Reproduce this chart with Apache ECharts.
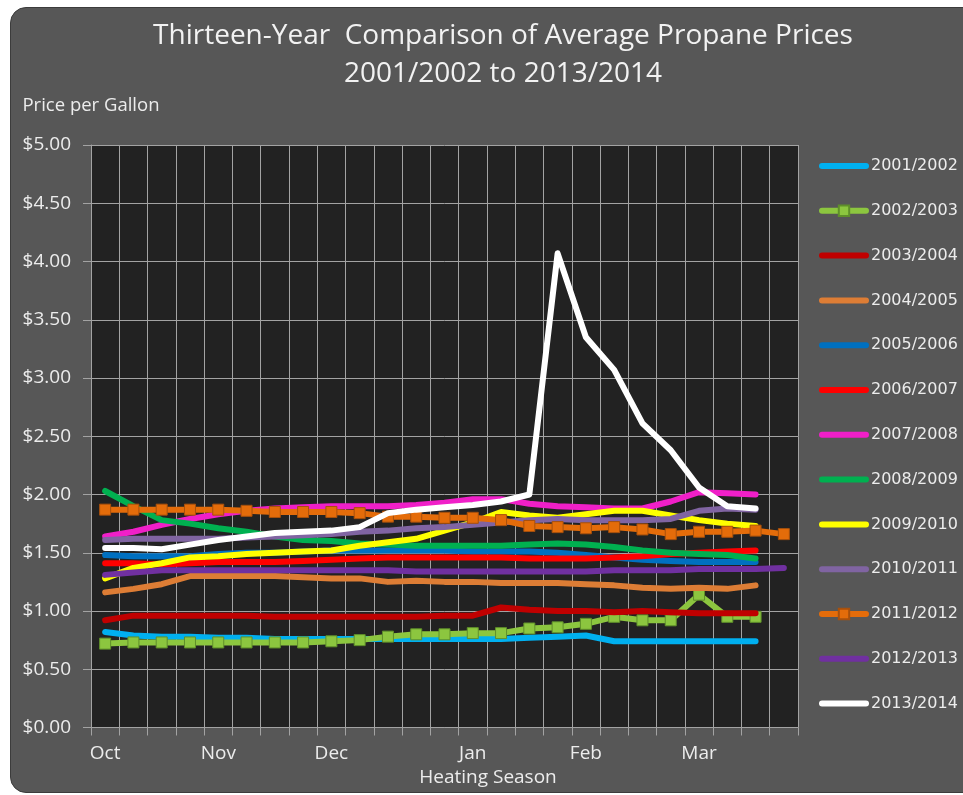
<!DOCTYPE html>
<html>
<head>
<meta charset="utf-8">
<title>Propane Prices</title>
<script src="https://cdn.jsdelivr.net/npm/echarts@6.0.0/dist/echarts.min.js"></script>
<style>
  body { margin: 0; background: #ffffff; }
  #box { position: absolute; left: 10px; top: 7px; width: 975px; height: 784px;
         border-radius: 16px; background: #575757; border: 1px solid #3c3c3c; }
  #main { position: absolute; left: 0; top: 0; width: 963px; height: 795px; }
</style>
</head>
<body>
<div id="box"></div>
<div id="main"></div>
<script>
// months and the number of weekly readings in each
var months = ['Oct', 'Nov', 'Dec', 'Jan', 'Feb', 'Mar'];
var weeksPerMonth = [4, 4, 5, 4, 4, 4];

var seasons = ['2001/2002', '2002/2003', '2003/2004', '2004/2005', '2005/2006', '2006/2007',
  '2007/2008', '2008/2009', '2009/2010', '2010/2011', '2011/2012', '2012/2013', '2013/2014'];

var yTicks = [0, 0.5, 1, 1.5, 2, 2.5, 3, 3.5, 4, 4.5, 5];

// weekly average price per gallon
var p2001 = [0.82, 0.79, 0.78, 0.78, 0.77, 0.77, 0.76, 0.76, 0.76, 0.76, 0.76, 0.76, 0.76, 0.76, 0.76, 0.77, 0.78, 0.79, 0.74, 0.74, 0.74, 0.74, 0.74, 0.74];
var p2002 = [0.72, 0.73, 0.73, 0.73, 0.73, 0.73, 0.73, 0.73, 0.74, 0.75, 0.78, 0.80, 0.80, 0.81, 0.81, 0.85, 0.86, 0.89, 0.95, 0.92, 0.92, 1.14, 0.95, 0.95];
var p2003 = [0.92, 0.96, 0.96, 0.96, 0.96, 0.96, 0.95, 0.95, 0.95, 0.95, 0.95, 0.95, 0.96, 0.96, 1.03, 1.01, 1.00, 1.00, 0.99, 1.00, 0.99, 0.98, 0.98, 0.98];
var p2004 = [1.16, 1.19, 1.23, 1.30, 1.30, 1.30, 1.30, 1.29, 1.28, 1.28, 1.25, 1.26, 1.25, 1.25, 1.24, 1.24, 1.24, 1.23, 1.22, 1.20, 1.19, 1.20, 1.19, 1.22];
var p2005 = [1.48, 1.47, 1.47, 1.47, 1.49, 1.50, 1.50, 1.51, 1.52, 1.52, 1.52, 1.52, 1.52, 1.51, 1.51, 1.51, 1.50, 1.48, 1.46, 1.44, 1.43, 1.42, 1.42, 1.42];
var p2006 = [1.41, 1.41, 1.40, 1.41, 1.42, 1.42, 1.42, 1.43, 1.44, 1.45, 1.46, 1.46, 1.46, 1.46, 1.46, 1.45, 1.45, 1.45, 1.46, 1.47, 1.49, 1.50, 1.51, 1.52];
var p2007 = [1.64, 1.68, 1.74, 1.79, 1.83, 1.86, 1.88, 1.89, 1.90, 1.90, 1.90, 1.91, 1.93, 1.96, 1.96, 1.92, 1.90, 1.89, 1.88, 1.88, 1.94, 2.02, 2.01, 2.00];
var p2008 = [2.03, 1.90, 1.78, 1.75, 1.71, 1.68, 1.64, 1.61, 1.60, 1.58, 1.57, 1.56, 1.56, 1.56, 1.56, 1.57, 1.58, 1.57, 1.55, 1.52, 1.50, 1.49, 1.48, 1.45];
var p2009 = [1.28, 1.37, 1.41, 1.46, 1.47, 1.49, 1.50, 1.51, 1.52, 1.56, 1.59, 1.62, 1.69, 1.76, 1.85, 1.82, 1.80, 1.83, 1.86, 1.86, 1.82, 1.78, 1.75, 1.73];
var p2010 = [1.61, 1.62, 1.62, 1.62, 1.62, 1.63, 1.64, 1.65, 1.66, 1.68, 1.69, 1.71, 1.72, 1.74, 1.76, 1.78, 1.79, 1.78, 1.78, 1.78, 1.79, 1.86, 1.88, 1.87];
var p2011 = [1.87, 1.87, 1.87, 1.87, 1.87, 1.86, 1.85, 1.85, 1.85, 1.84, 1.81, 1.81, 1.80, 1.80, 1.78, 1.73, 1.72, 1.71, 1.72, 1.70, 1.66, 1.68, 1.68, 1.69, 1.66];
var p2012 = [1.31, 1.33, 1.35, 1.35, 1.35, 1.35, 1.35, 1.35, 1.35, 1.35, 1.35, 1.34, 1.34, 1.34, 1.34, 1.34, 1.34, 1.34, 1.35, 1.35, 1.35, 1.36, 1.36, 1.36, 1.37];
var p2013 = [1.54, 1.54, 1.53, 1.57, 1.61, 1.64, 1.67, 1.68, 1.69, 1.72, 1.84, 1.87, 1.89, 1.91, 1.94, 2.00, 4.07, 3.35, 3.07, 2.61, 2.38, 2.06, 1.90, 1.88];

var prices = [p2001, p2002, p2003, p2004, p2005, p2006, p2007, p2008, p2009, p2010, p2011, p2012, p2013];
var colors = ['#00b0f0', '#8cc63f', '#c00000', '#dd7d35', '#0070c0', '#ff0000', '#f01fc8',
  '#00b050', '#ffff00', '#8064a2', '#e46c0a', '#7030a0', '#ffffff'];
var withMarker = { '2002/2003': '#5f8f2a', '2011/2012': '#a8500c' };

function each(arr, fn) { for (var i = 0; i < arr.length; i++) fn(i, arr[i]); }

// one category per week, label only on the first week of a month
var categories = [];
var firstWeek = {};
each(months, function (m, name) {
  for (var w = 0; w < weeksPerMonth[m]; w++) {
    if (w === 0) firstWeek[categories.length] = true;
    categories.push(w === 0 ? name : name + ' ' + (w + 1));
  }
});

var gridColor = '#a3a3a3';
var textColor = '#ececec';
var font = '"Open Sans", "Liberation Sans", sans-serif';

var series = [];
var legendData = [];
each(seasons, function (i, name) {
  var mk = withMarker[name];
  series.push({
    name: name,
    type: 'line',
    data: prices[i],
    symbol: mk ? 'rect' : 'none',
    symbolSize: 11,
    showSymbol: !!mk,
    lineStyle: { width: 6, color: colors[i], join: 'round', cap: 'round' },
    itemStyle: { color: colors[i], borderColor: mk || colors[i], borderWidth: mk ? 1 : 0 },
    emphasis: { disabled: true },
    z: 2 + i
  });
  legendData.push(mk ? { name: name } : { name: name, itemStyle: { opacity: 0 } });
});

var myChart = echarts.init(document.getElementById('main'));

var option = {
  backgroundColor: 'transparent',
  animation: false,
  color: colors,
  textStyle: { fontFamily: font },
  graphic: [
    {
      type: 'text', x: 503, y: 36,
      style: { text: 'Thirteen-Year  Comparison of Average Propane Prices', align: 'center',
        verticalAlign: 'middle', fill: '#f2f2f2', font: '28px ' + font }
    },
    {
      type: 'text', x: 503, y: 74,
      style: { text: '2001/2002 to 2013/2014', align: 'center',
        verticalAlign: 'middle', fill: '#f2f2f2', font: '28px ' + font }
    },
    {
      type: 'text', x: 488, y: 778,
      style: { text: 'Heating Season', align: 'center', verticalAlign: 'middle',
        fill: textColor, font: '19px ' + font }
    }
  ],
  legend: {
    orient: 'vertical',
    left: 819,
    top: 158,
    padding: 0,
    itemWidth: 44,
    itemHeight: 13,
    itemGap: 28.8,
    data: legendData,
    lineStyle: { width: 6, cap: 'round' },
    textStyle: { color: textColor, fontSize: 16, lineHeight: 16,
      fontFamily: '"DejaVu Sans", sans-serif' }
  },
  grid: {
    left: 91, right: 165, top: 145, bottom: 67.5,
    show: true, backgroundColor: '#222222', borderWidth: 0,
    outerBoundsMode: 'none'
  },
  xAxis: {
    type: 'category',
    data: categories,
    boundaryGap: true,
    axisLine: { show: true, lineStyle: { color: gridColor, width: 1 } },
    axisTick: { show: true, interval: 0, length: 8, lineStyle: { color: gridColor } },
    splitLine: { show: true, interval: 0, lineStyle: { color: gridColor, width: 1 } },
    axisLabel: {
      color: textColor, fontSize: 19, margin: 17,
      interval: function (idx) { return !!firstWeek[idx]; },
      formatter: function (v) { return v.split(' ')[0]; }
    }
  },
  yAxis: {
    type: 'value',
    min: yTicks[0], max: yTicks[yTicks.length - 1], interval: yTicks[1] - yTicks[0],
    name: 'Price per Gallon',
    nameLocation: 'end',
    nameGap: 30,
    nameTextStyle: { color: textColor, fontSize: 18.5 },
    axisLine: { show: true, lineStyle: { color: gridColor, width: 1 } },
    axisTick: { show: true, length: 8, lineStyle: { color: gridColor } },
    splitLine: { show: true, lineStyle: { color: gridColor, width: 1 } },
    axisLabel: {
      color: textColor, fontSize: 19, margin: 20,
      formatter: function (v) { return '$' + v.toFixed(2); }
    }
  },
  series: series
};

myChart.setOption(option);
</script>
</body>
</html>
